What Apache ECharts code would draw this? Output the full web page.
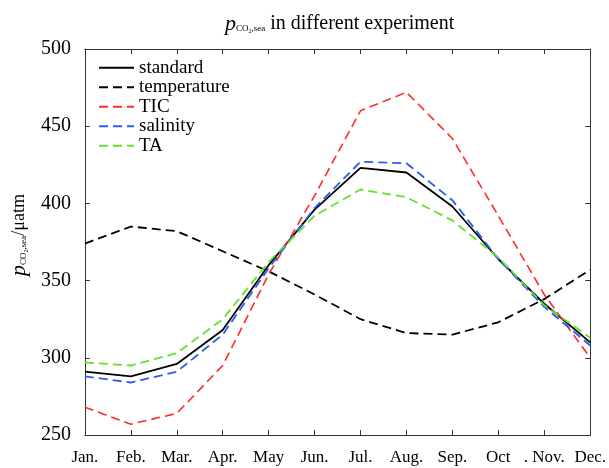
<!DOCTYPE html>
<html><head><meta charset="utf-8">
<script src="https://cdn.jsdelivr.net/npm/echarts@6/dist/echarts.min.js"></script>
<style>html,body{margin:0;padding:0;background:#fff}#c{width:609px;height:468px}</style>
</head><body><div id="c"></div>
<script>
const months = ["Jan.","Feb.","Mar.","Apr.","May","Jun.","Jul.","Aug.","Sep.","Oct",". Nov.","Dec."];
const yTicks = [250,300,350,400,450,500];
const standard    = [291,288,296,318,360,396,423,420,398,364,335,310];
const temperature = [374,385,382,369,356,341,325,316,315,323,338,357];
const tic         = [268,257,264,295,354,405,460,472,442,392,341,300];
const salinity    = [288,284,291,315,358,397,427,426,402,364,333,308];
const ta          = [297,295,303,325,362,392,409,404,389,365,334,313];

const FONT = "Liberation Serif";
function richSet(big, small, tiny, norm){
  return {
    p:{fontFamily:FONT,fontStyle:'italic',fontWeight:'normal',fontSize:big,color:'#000'},
    s:{fontFamily:FONT,fontWeight:'normal',fontSize:small,color:'#000',padding:[Math.round(big*0.45),0,0,0]},
    ss:{fontFamily:FONT,fontWeight:'normal',fontSize:tiny,color:'#000',padding:[Math.round(big*0.65),0,0,0]},
    n:{fontFamily:FONT,fontWeight:'normal',fontSize:norm,color:'#000'}
  };
}
const chart = echarts.init(document.getElementById('c'));
function mk(name, data, color, type, width){
  return {name, type:'line', data, symbol:'none', animation:false,
    lineStyle:{color, width, type}, itemStyle:{color}};
}
chart.setOption({
  backgroundColor:'#fff',
  title:{text:'{p|p}{s|CO}{ss|2}{s|,sea}{n| in different experiment}', left:220, top:8,
    textStyle:{fontWeight:'normal',rich:richSet(22,9,6,20)}},
  grid:{left:83,right:16,top:49,bottom:33},
  legend:{orient:'vertical',left:93,top:53,itemWidth:35,itemHeight:12,itemGap:0,
    itemStyle:{opacity:0},
    textStyle:{fontFamily:FONT,fontSize:19,color:'#000',lineHeight:19.5},
    data:['standard','temperature','TIC','salinity','TA']},
  xAxis:[{type:'category',data:months,boundaryGap:false,
    axisLine:{lineStyle:{color:'#333',width:1}},
    axisTick:{inside:true,length:5,lineStyle:{color:'#333'}},
    axisLabel:{fontFamily:FONT,fontSize:17,color:'#000',margin:14,interval:0},
    splitLine:{show:false}},
   {type:'category',data:months,boundaryGap:false,position:'top',
    axisLine:{lineStyle:{color:'#333',width:1}},
    axisTick:{inside:true,length:5,lineStyle:{color:'#333'}},
    axisLabel:{show:false}}],
  yAxis:[{type:'value',min:yTicks[0],max:yTicks[yTicks.length-1],interval:50,
    axisLine:{show:true,lineStyle:{color:'#333',width:1}},
    axisTick:{show:true,inside:true,length:5,lineStyle:{color:'#333'}},
    axisLabel:{fontFamily:FONT,fontSize:20,color:'#000',margin:14},
    splitLine:{show:false},
    name:'{p|p}{s|CO}{ss|2}{s|,sea}{n|/μatm}',nameLocation:'middle',nameGap:54,nameRotate:90,
    nameTextStyle:{padding:[0,0,0,14],rich:richSet(22,9,6,18)}},
   {type:'value',min:yTicks[0],max:yTicks[yTicks.length-1],interval:50,position:'right',
    axisLine:{show:true,lineStyle:{color:'#333',width:1}},
    axisTick:{show:true,inside:true,length:5,lineStyle:{color:'#333'}},
    axisLabel:{show:false},splitLine:{show:false}}],
  series:[
    mk('standard',standard,'#000','solid',1.8),
    mk('temperature',temperature,'#000',[9,5],1.8),
    mk('TIC',tic,'#ff2a2a',[9,5],1.6),
    mk('salinity',salinity,'#2a5cf0',[9,5],1.8),
    mk('TA',ta,'#66e028',[9,5],1.8)
  ]
});
</script></body></html>
